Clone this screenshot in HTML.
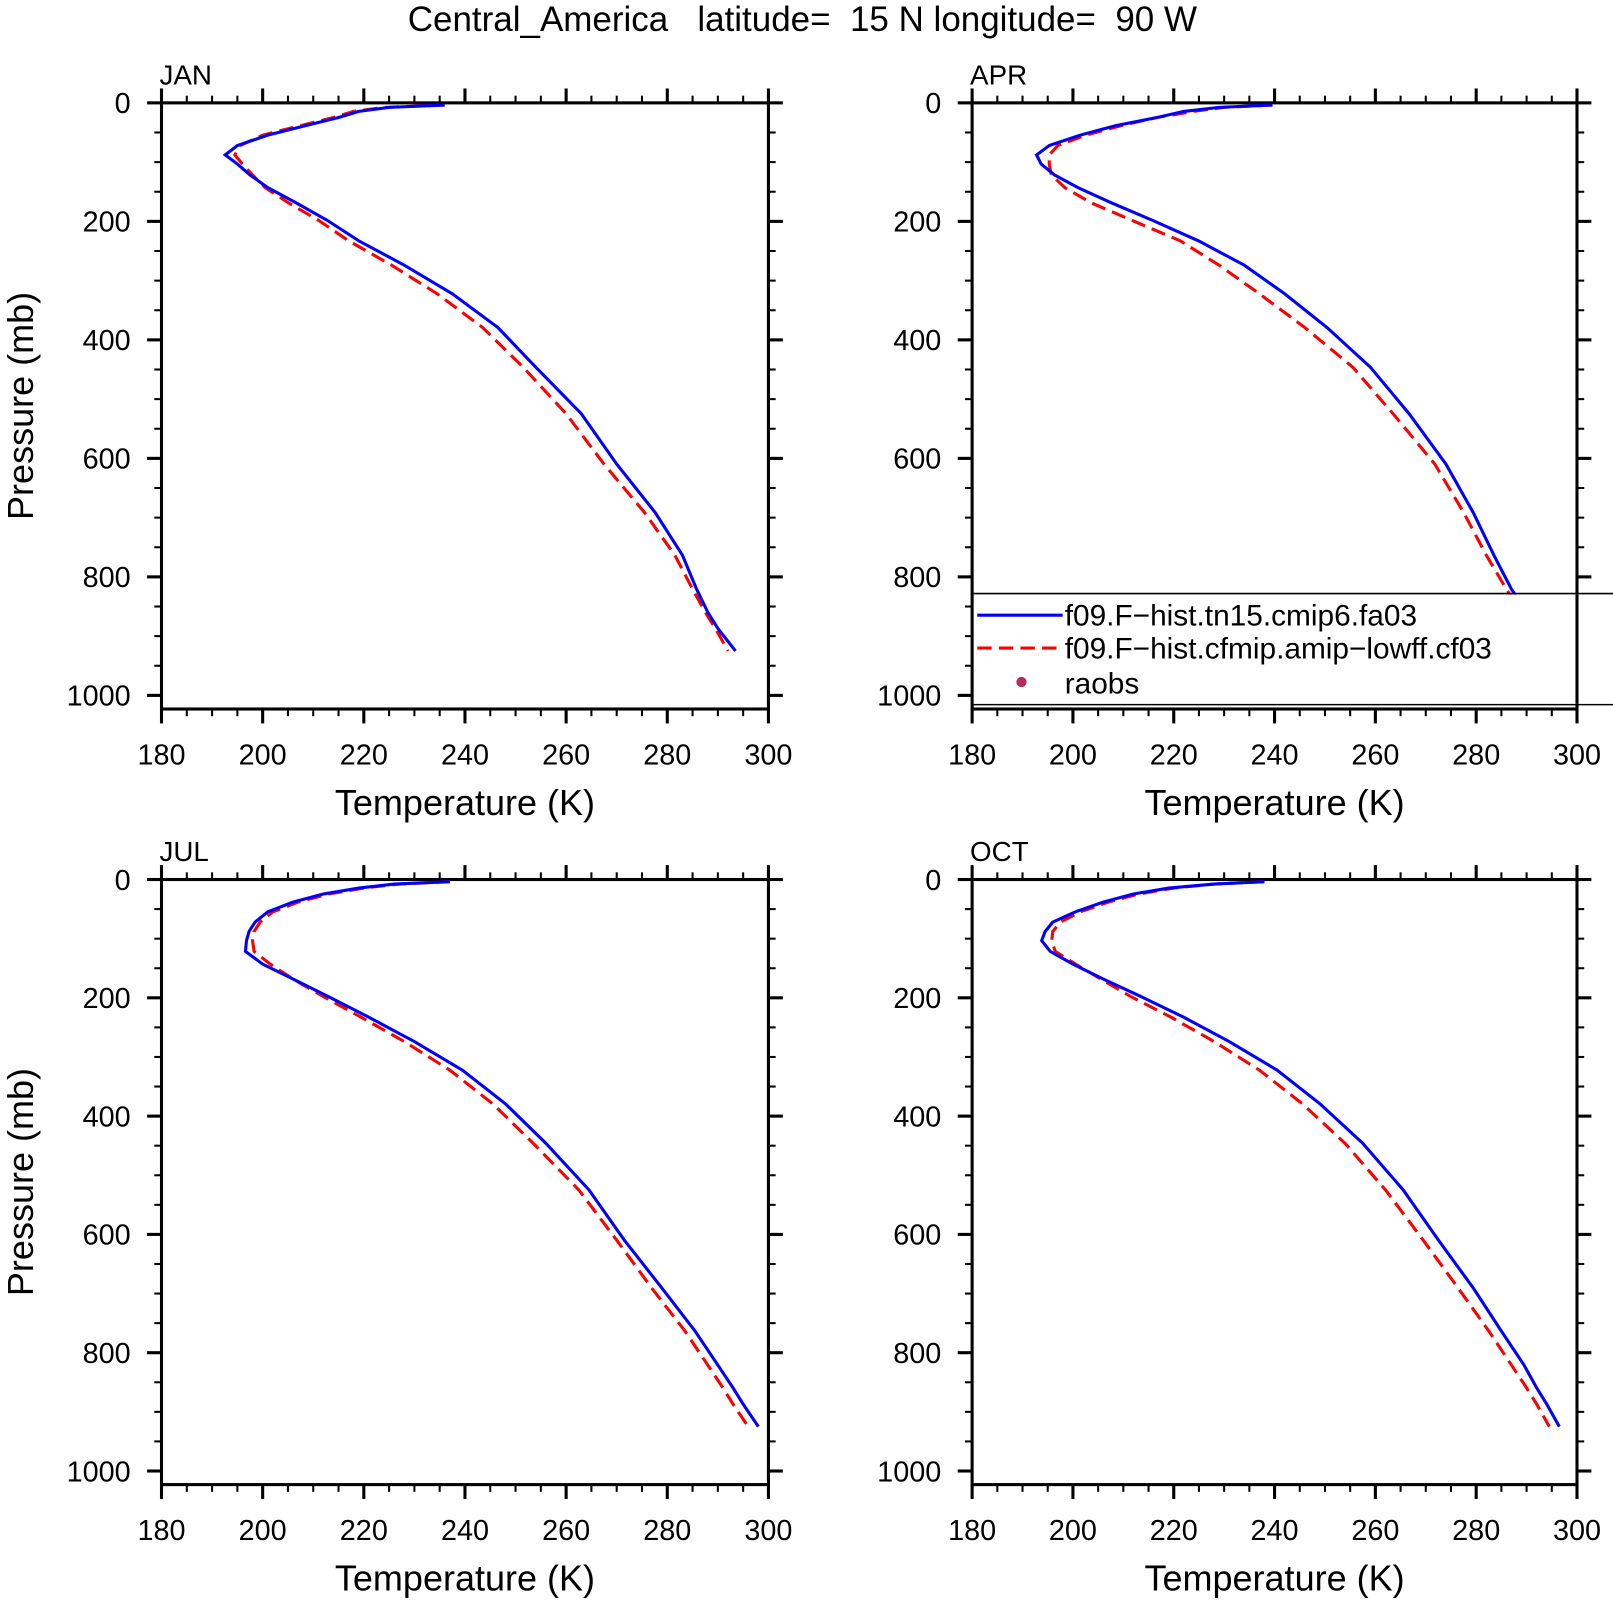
<!DOCTYPE html>
<html><head><meta charset="utf-8"><style>
html,body{margin:0;padding:0;background:#fff}
svg{display:block}
text{font-family:"Liberation Sans",sans-serif;fill:#000}
</style></head><body>
<svg id="chart" width="1613" height="1600" viewBox="0 0 1568 1555.4" preserveAspectRatio="none" xmlns="http://www.w3.org/2000/svg">
<text x="780" y="30" font-size="34" text-anchor="middle" xml:space="preserve">Central_America   latitude=  15 N longitude=  90 W</text>
</svg>
<script>
const levels=[3.6,7.6,14.4,24.6,38.3,54.6,72.0,87.8,103.3,121.5,143.0,168.2,197.9,232.8,273.9,322.2,379.1,446.0,524.7,609.8,691.4,763.4,820.9,859.5,887.0,925.0];
const janBlue=[236,225,219,215,208.5,201,195,192.6,195,197.5,201,206.5,212.7,219,228,237.5,246.5,254,263,270,277.6,283,285.8,288,290,293.5];
const janRed=[235.5,224,218,214,207.5,200,195.5,194.5,196,198,200.5,205,211,217,225.5,234.5,243.5,251.5,260,267.5,275.5,281.5,285,287.5,289.5,292];
const aprBlue=[239.6,229,222,216.7,208.5,201.4,195.3,192.8,193.7,196.3,201,207.5,215.7,224.9,234,242,250.4,259,266.7,274,279.4,283.5,287,290.2,292.2,296.9];
const aprRed=[239.6,230,223.9,216.7,209.6,202.5,197,195.3,195.3,195.7,198.4,203.5,211.6,221.3,229,237,246,255.5,263.5,271.8,277.5,282,286,289,291.5,295.3];
const julBlue=[237,226,219,212,206,201,198.5,197.3,196.8,196.6,200,206,213,221,230,239.5,248,256,264.5,271.5,279,285.5,290,293,295,298];
const julRed=[237,227,220,213,207,202,199.5,198.3,198,198.3,201.5,206,212,219.5,228,237,245.5,253.5,262.5,270,277,283.5,288,291,293,296];
const octBlue=[238,228,219,212,206,200.5,196,194.5,193.8,195.5,200,206,213.5,222,231,240.5,249,257.5,265.5,272.5,279.5,285,289.5,292,294,296.5];
const octRed=[238,228,220,213,207,201.5,197.5,196,195.8,196.5,200.5,205.5,211.5,219.5,228,237,245.5,254,262,269.5,276.5,282.5,287,290,292,294.5];
const xTicks=[180,200,220,240,260,280,300];
const yTicks=[0,200,400,600,800,1000];
const panelNames=["JAN","APR","JUL","OCT"];
const seriesBlue=[janBlue,aprBlue,julBlue,octBlue];
const seriesRed=[janRed,aprRed,julRed,octRed];

const NS="http://www.w3.org/2000/svg";
const svg=document.getElementById('chart');
function mk(tag,attrs,parent){const e=document.createElementNS(NS,tag);for(const k in attrs)e.setAttribute(k,attrs[k]);(parent||svg).appendChild(e);return e;}
const layout=[{x0:157,x1:747,y0:100,y1:676},{x0:945,x1:1533,y0:100,y1:676},{x0:157,x1:747,y0:855,y1:1430},{x0:945,x1:1533,y0:855,y1:1430}];
panelNames.forEach((name,i)=>{
  const L=layout[i];
  const g=mk('g',{});
  
  
  const xs=t=>L.x0+(t-180)/120*(L.x1-L.x0);
  const ys=p=>L.y0+p/1000*(L.y1-L.y0);
  const yb=ys(1023);
  const fr=mk('rect',{x:L.x0,y:L.y0,width:L.x1-L.x0,height:yb-L.y0,fill:'none',stroke:'#000','stroke-width':3},g);
  
  
  for(let t=180;t<=300;t+=5){
    const maj=(t%20===0), len=maj?14:7, x=xs(t);
    mk('line',{x1:x,x2:x,y1:L.y0,y2:L.y0-len,stroke:'#000','stroke-width':maj?3:2},g);
    mk('line',{x1:x,x2:x,y1:yb,y2:yb+len,stroke:'#000','stroke-width':maj?3:2},g);
  }
  for(let p=0;p<=1000;p+=50){
    const maj=(p%200===0), len=maj?14:7, y=ys(p);
    mk('line',{x1:L.x0,x2:L.x0-len,y1:y,y2:y,stroke:'#000','stroke-width':maj?3:2},g);
    mk('line',{x1:L.x1,x2:L.x1+len,y1:y,y2:y,stroke:'#000','stroke-width':maj?3:2},g);
  }
  xTicks.forEach(t=>{const e=mk('text',{x:xs(t),y:yb+54,'font-size':28,'text-anchor':'middle'},g);e.textContent=t;
    });
  yTicks.forEach(p=>{const e=mk('text',{x:L.x0-30,y:ys(p)+10,'font-size':28,'text-anchor':'end'},g);e.textContent=p;
    });
  const lb=mk('text',{x:L.x0-2,y:L.y0-18,'font-size':27},g);lb.textContent=name;
  
  const xt=mk('text',{x:(L.x0+L.x1)/2,y:yb+103,'font-size':35,'text-anchor':'middle'},g);xt.textContent='Temperature (K)';
  
  if(i%2===0){const yt=mk('text',{x:0,y:0,'font-size':35,'text-anchor':'middle',transform:`translate(32,${(L.y0+yb)/2}) rotate(-90)`},g);yt.textContent='Pressure (mb)';
    }
  const pts=a=>a.map((t,k)=>xs(t).toFixed(1)+','+ys(levels[k]).toFixed(1)).join(' ');
  const r=mk('polyline',{points:pts(seriesRed[i]),fill:'none',stroke:'#ff0000','stroke-width':3,'stroke-dasharray':'14,7'},g);
  
  const b=mk('polyline',{points:pts(seriesBlue[i]),fill:'none',stroke:'#0000ff','stroke-width':3},g);
  
});
const lg=mk('g',{});


mk('line',{x1:945,x2:1568,y1:577,y2:577,stroke:'#000','stroke-width':1.5},lg);
mk('line',{x1:945,x2:1568,y1:685,y2:685,stroke:'#000','stroke-width':1.5},lg);
mk('rect',{x:947,y:578,width:621,height:106,fill:'#fff'},lg);
mk('line',{x1:1533,x2:1533,y1:578,y2:684,stroke:'#000','stroke-width':3},lg);
mk('line',{x1:950,x2:1033,y1:598,y2:598,stroke:'#0000ff','stroke-width':3},lg);
mk('line',{x1:950,x2:1033,y1:630,y2:630,stroke:'#ff0000','stroke-width':3,'stroke-dasharray':'14,7'},lg);
mk('circle',{cx:993,cy:663,r:5,fill:'#b03060'},lg);
[['f09.F\u2212hist.tn15.cmip6.fa03',608],['f09.F\u2212hist.cfmip.amip\u2212lowff.cf03',640],['raobs',674]].forEach(([s,y])=>{
  const e=mk('text',{x:1035,y:y,'font-size':29},lg);e.textContent=s;
  });
</script>
</body></html>
